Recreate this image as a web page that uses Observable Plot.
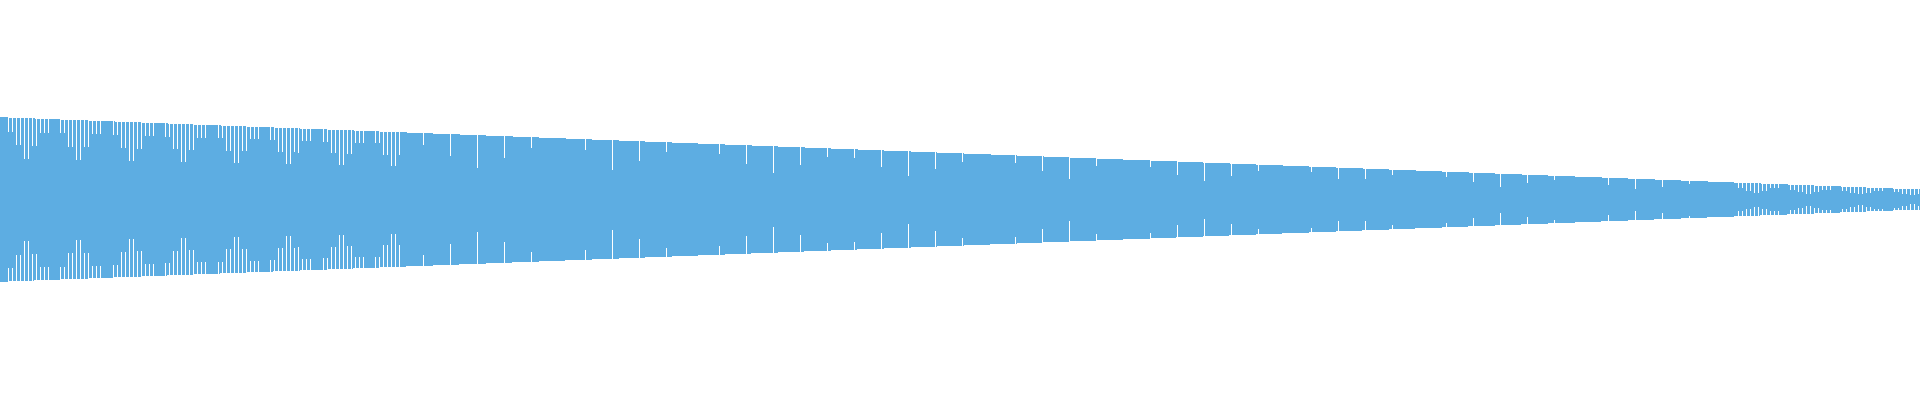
<!DOCTYPE html>
<html>
<head>
<meta charset="utf-8">
<script src="https://cdn.jsdelivr.net/npm/d3@7"></script>
<script src="https://cdn.jsdelivr.net/npm/@observablehq/plot@0.6"></script>
<style>
  html, body { margin: 0; padding: 0; background: #ffffff; }
  #chart svg { display: block; }
</style>
</head>
<body>
<div id="chart"></div>
<script>
// Outer envelope (half-height of the symmetric band) read at both ends
const envelopeX = [0, 1920];
const envelopeHalf = [82.3, 10];

// Notches: position and inner half-height where the band is cut back
const notchX = [
  8, 12, 16, 20, 24, 28, 32, 36, 40, 44, 48,
  60, 64, 68, 72, 76, 80, 84, 88, 92, 96, 100,
  113, 117, 121, 125, 129, 133, 137, 141, 145, 149, 153,
  165, 169, 173, 177, 181, 185, 189, 193, 197, 201, 205,
  218, 222, 226, 230, 234, 238, 242, 246, 250, 254, 258,
  270, 274, 278, 282, 286, 290, 294, 298, 302, 306, 310,
  323, 327, 331, 335, 339, 343, 347, 351, 355, 359, 363,
  375, 379, 383, 387, 391, 395, 399,
  423, 450, 477, 504, 531, 585, 612, 639, 666, 719, 746, 773,
  800, 827, 854, 881, 908, 935, 962, 1015, 1042, 1069, 1096,
  1150, 1177, 1204, 1231, 1258, 1311, 1338, 1365, 1392,
  1446, 1473, 1500, 1527, 1554, 1608, 1635, 1662, 1689,
  1738, 1742, 1746, 1750, 1754, 1758, 1762, 1766, 1770, 1774, 1778,
  1790, 1794, 1798, 1802, 1806, 1810, 1814, 1818, 1822, 1826, 1830,
  1842, 1846, 1850, 1854, 1858, 1862, 1866, 1870, 1874, 1878, 1882,
  1894, 1898, 1902, 1906, 1910, 1914, 1918
];
const notchHalf = [
  68, 68, 55, 55, 41, 41, 54, 54, 67, 67, 67,
  67, 67, 53, 53, 40, 40, 53, 53, 66, 66, 66,
  65, 65, 52, 52, 39, 39, 51, 51, 64, 64, 64,
  63, 63, 51, 51, 38, 38, 50, 50, 62, 62, 62,
  62, 62, 49, 49, 37, 37, 49, 49, 61, 61, 61,
  60, 60, 48, 48, 36, 36, 48, 47, 59, 59, 59,
  58, 58, 47, 47, 35, 35, 46, 46, 57, 57, 57,
  57, 57, 45, 45, 34, 34, 45,
  55, 44, 32, 42, 52, 50, 30, 39, 48, 46, 36, 27,
  35, 43, 42, 33, 24, 31, 38, 37, 29, 21, 34,
  33, 25, 19, 24, 29, 28, 21, 21, 25,
  23, 18, 13, 17, 20, 15, 11, 13, 16,
  11.5, 11.5, 9, 9, 7, 7, 9, 9, 11.5, 11.5, 11.5,
  10, 10, 8, 8, 6, 6, 8, 8, 10, 10, 10,
  9, 9, 7, 7, 5.5, 5.5, 7, 7, 9, 9, 9,
  8, 8, 6, 6, 4.5, 4.5, 6
];

const blue = "#5DADE2";

const envelope = envelopeX.map((x, i) => ({x, h: envelopeHalf[i]}));
const outerAt = d3.scaleLinear(envelopeX, envelopeHalf);
const notches = notchX.map((x, i) => ({x, inner: notchHalf[i], outer: outerAt(x) + 1}));

const chart = Plot.plot({
  width: 1920,
  height: 400,
  margin: 0,
  x: {domain: [0, 1920], axis: null},
  y: {domain: [-200.5, 199.5], axis: null},
  marks: [
    Plot.areaY(envelope, {x: "x", y1: d => -d.h, y2: d => d.h, fill: blue, shapeRendering: "crispEdges"}),
    Plot.ruleX(notches, {x: "x", y1: "inner", y2: "outer", stroke: "#ffffff", strokeWidth: 1, shapeRendering: "crispEdges"}),
    Plot.ruleX(notches, {x: "x", y1: d => -d.outer, y2: d => -d.inner, stroke: "#ffffff", strokeWidth: 1, shapeRendering: "crispEdges"})
  ]
});
document.getElementById("chart").append(chart);
</script>
</body>
</html>
